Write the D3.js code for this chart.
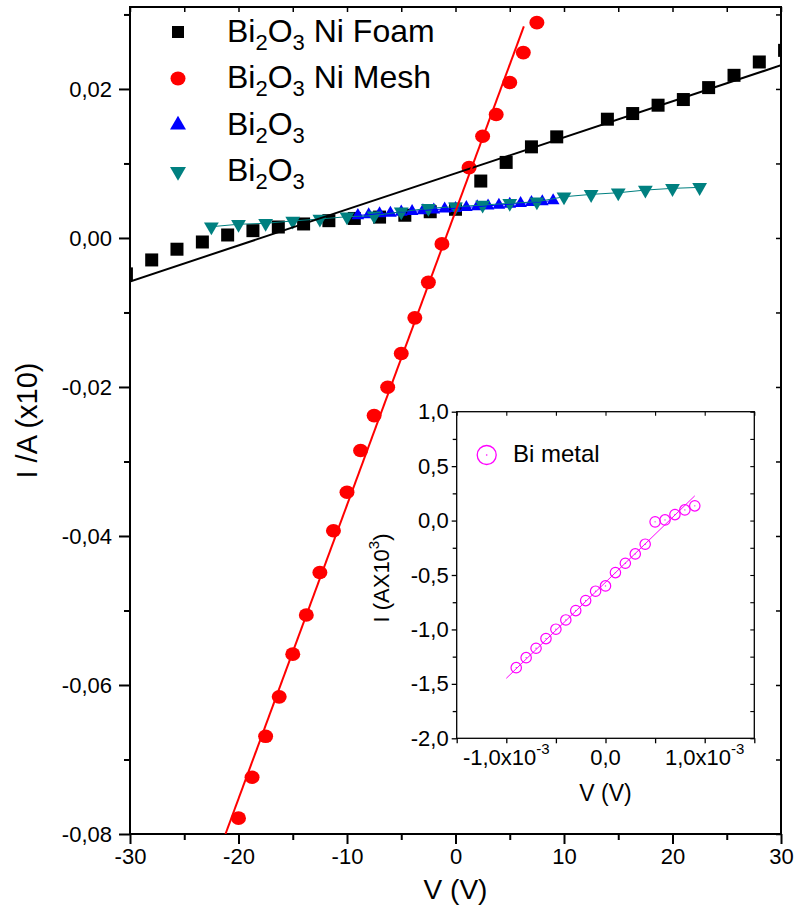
<!DOCTYPE html>
<html>
<head>
<meta charset="utf-8">
<script src="https://cdn.jsdelivr.net/npm/d3@7"></script>
<style>
  body { margin: 0; background: #fff; }
  svg { display: block; font-family: "Liberation Sans", Arial, sans-serif; }
</style>
</head>
<body>
<svg id="chart" width="797" height="918"></svg>
<script>
// Bi2O3 on Ni foam (black squares)
const foamV = [-30.33, -28, -25.67, -23.33, -21, -18.67, -16.33, -14, -11.67, -9.33, -7, -4.67, -2.33, 0,
               2.33, 4.67, 7, 9.33, 14, 16.33, 18.67, 21, 23.33, 25.67, 28, 30.33];
const foamI = [-0.00482, -0.00295, -0.00151, -0.00054, 0.00040, 0.00098, 0.00147, 0.00188, 0.00232, 0.00262,
               0.00280, 0.00305, 0.00352, 0.00385, 0.00764, 0.01014, 0.01223, 0.01357, 0.01594, 0.01670,
               0.01782, 0.01858, 0.02018, 0.02183, 0.02362, 0.02518];
const foamFitV = [-30, 30];
const foamFitI = [-0.00584, 0.02318];

// Bi2O3 on Ni mesh (red circles)
const meshV = [-20, -18.75, -17.5, -16.25, -15, -13.75, -12.5, -11.25, -10, -8.75, -7.5, -6.25, -5, -3.75, -2.5, -1.25,
               1.25, 2.5, 3.75, 5, 6.25, 7.5];
const meshI = [-0.07787, -0.07238, -0.06689, -0.06159, -0.05586, -0.05061, -0.04490, -0.03929, -0.03413, -0.02853,
               -0.02384, -0.02004, -0.01550, -0.01072, -0.00596, -0.00080, 0.00944, 0.01366, 0.01657, 0.02086,
               0.02488, 0.02890];
const meshFitV = [-21.2, 6.3];
const meshFitI = [-0.08, 0.0284];

// Bi2O3 (blue up triangles)
const blueV = [-9, -8, -7, -6, -5, -4, -3, -2, -1, 0, 1, 2, 3, 4, 5, 6, 7, 8, 9];
const blueI = [0.00302, 0.00313, 0.00326, 0.00334, 0.00349, 0.00356, 0.00369, 0.00379, 0.00390, 0.00398,
               0.00411, 0.00420, 0.00432, 0.00441, 0.00454, 0.00464, 0.00477, 0.00487, 0.00503];

// Bi2O3 (teal down triangles)
const tealV = [-22.5, -20, -17.5, -15, -12.5, -10, -7.5, -5, -2.5, 0, 2.5, 5, 7.5, 10, 12.5, 15, 17.5, 20, 22.5];
const tealI = [0.00151, 0.00184, 0.00197, 0.00228, 0.00255, 0.00285, 0.00299, 0.00352, 0.00398, 0.00419,
               0.00442, 0.00465, 0.00486, 0.00553, 0.00585, 0.00607, 0.00643, 0.00666, 0.00679];

// Inset: Bi metal (magenta open circles)
const biV = [-0.0009, -0.0008, -0.0007, -0.0006, -0.0005, -0.0004, -0.0003, -0.0002, -0.0001, 0,
             0.0001, 0.0002, 0.0003, 0.0004, 0.0005, 0.0006, 0.0007, 0.0008, 0.0009];
const biI = [-1.351, -1.259, -1.173, -1.084, -0.998, -0.913, -0.827, -0.735, -0.649, -0.600,
             -0.478, -0.392, -0.306, -0.217, -0.012, 0.006, 0.055, 0.098, 0.135];
const biFitV = [-0.001, 0.0009];
const biFitI = [-1.449, 0.227];

// ticks
const xMajor = [-30, -20, -10, 0, 10, 20, 30];
const xMinor = [-25, -15, -5, 5, 15, 25];
const yMajor = [-0.08, -0.06, -0.04, -0.02, 0, 0.02];
const yMinor = [-0.07, -0.05, -0.03, -0.01, 0.01, 0.03];
const insetXMajor = [-0.001, 0, 0.001];
const insetXMinor = [-0.0015, -0.0005, 0.0005, 0.0015];
const insetYMajor = [-2, -1.5, -1, -0.5, 0, 0.5, 1];
const insetYMinor = [-1.75, -1.25, -0.75, -0.25, 0.25, 0.75];

const legendNames = [["Bi", "2", "O", "3", " Ni Foam"], ["Bi", "2", "O", "3", " Ni Mesh"],
                     ["Bi", "2", "O", "3", ""], ["Bi", "2", "O", "3", ""]];

const locale = d3.formatLocale({decimal: ",", thousands: ".", grouping: [3], currency: ["", ""], minus: "-"});

const svg = d3.select("#chart");

// ---------- main plot ----------
const mL = 130, mR = 781, mT = 7, mB = 834;
const x = d3.scaleLinear().domain([-30, 30]).range([mL, mR]);
const y = d3.scaleLinear().domain([-0.08, 0.031]).range([mB, mT]);

svg.append("defs").append("clipPath").attr("id", "clipMain")
  .append("rect").attr("x", mL).attr("y", mT).attr("width", mR - mL).attr("height", mB - mT);

function styleAxis(g, sw) {
  g.select(".domain").remove();
  g.selectAll(".tick line").attr("stroke", "#000").attr("stroke-width", sw);
  g.selectAll(".tick text").attr("fill", "#000");
}

// outer ticks with labels
svg.append("g").attr("transform", `translate(0,${mB})`)
  .call(d3.axisBottom(x).tickValues(xMajor).tickSize(10).tickPadding(4).tickFormat(locale.format("d")))
  .call(g => styleAxis(g, 2)).call(g => g.selectAll("text").attr("font-size", 22).attr("font-family", null));
svg.append("g").attr("transform", `translate(0,${mB})`)
  .call(d3.axisBottom(x).tickValues(xMinor).tickSize(6).tickFormat(""))
  .call(g => styleAxis(g, 2));
svg.append("g").attr("transform", `translate(${mL},0)`)
  .call(d3.axisLeft(y).tickValues(yMajor).tickSize(11).tickPadding(7).tickFormat(locale.format(".2f")))
  .call(g => styleAxis(g, 2)).call(g => g.selectAll("text").attr("font-size", 22).attr("font-family", null));
svg.append("g").attr("transform", `translate(${mL},0)`)
  .call(d3.axisLeft(y).tickValues(yMinor).tickSize(6).tickFormat(""))
  .call(g => styleAxis(g, 2));
// mirrored inward ticks
svg.append("g").attr("transform", `translate(0,${mT})`)
  .call(d3.axisBottom(x).tickValues(xMajor.concat(xMinor)).tickSize(5).tickFormat(""))
  .call(g => styleAxis(g, 1.5));
svg.append("g").attr("transform", `translate(${mR},0)`)
  .call(d3.axisLeft(y).tickValues(yMajor.concat(yMinor)).tickSize(5).tickFormat(""))
  .call(g => styleAxis(g, 1.5));

svg.append("rect").attr("x", mL).attr("y", mT).attr("width", mR - mL).attr("height", mB - mT)
  .attr("fill", "none").attr("stroke", "#000").attr("stroke-width", 2);

svg.append("text").attr("x", (mL + mR) / 2).attr("y", 899).attr("text-anchor", "middle")
  .attr("font-size", 28).text("V (V)");
svg.append("text").attr("transform", `translate(37,${(mT + mB) / 2}) rotate(-90)`)
  .attr("text-anchor", "middle").attr("font-size", 29).text("I /A (x10)");

const plot = svg.append("g").attr("clip-path", "url(#clipMain)");
const line = d3.line().x(d => x(d[0])).y(d => y(d[1]));

// black squares
plot.append("g").selectAll("rect").data(d3.zip(foamV, foamI)).join("rect")
  .attr("x", d => x(d[0]) - 6.5).attr("y", d => y(d[1]) - 6.5)
  .attr("width", 13).attr("height", 13).attr("fill", "#000");
// red circles
plot.append("g").selectAll("ellipse").data(d3.zip(meshV, meshI)).join("ellipse")
  .attr("cx", d => x(d[0])).attr("cy", d => y(d[1])).attr("rx", 7.5).attr("ry", 6.8).attr("fill", "#ff0000");
// blue up triangles
const triUp = d3.symbol().type(d3.symbolTriangle).size(70);
plot.append("g").selectAll("path").data(d3.zip(blueV, blueI)).join("path")
  .attr("d", triUp).attr("transform", d => `translate(${x(d[0])},${y(d[1])})`).attr("fill", "#0000ff");
// teal down triangles
const triDown = d3.symbol().type(d3.symbolTriangle).size(95);
plot.append("g").selectAll("path").data(d3.zip(tealV, tealI)).join("path")
  .attr("d", triDown).attr("transform", d => `translate(${x(d[0])},${y(d[1])}) rotate(180)`).attr("fill", "#008080");

// lines
plot.append("path").datum(d3.zip(blueV, blueI)).attr("d", line)
  .attr("fill", "none").attr("stroke", "#0000ff").attr("stroke-width", 1);
plot.append("path").datum(d3.zip(tealV, tealI)).attr("d", line)
  .attr("fill", "none").attr("stroke", "#008080").attr("stroke-width", 1);
plot.append("path").datum(d3.zip(foamFitV, foamFitI)).attr("d", line)
  .attr("fill", "none").attr("stroke", "#000").attr("stroke-width", 2);
plot.append("path").datum(d3.zip(meshFitV, meshFitI)).attr("d", line)
  .attr("fill", "none").attr("stroke", "#ff0000").attr("stroke-width", 2);

// legend
const legendColors = ["#000", "#ff0000", "#0000ff", "#008080"];
const legend = svg.append("g");
legendNames.forEach((parts, i) => {
  const cy = 32 + i * 46.5;
  const mx = 178;
  if (i === 0) legend.append("rect").attr("x", mx - 6).attr("y", cy - 6).attr("width", 12).attr("height", 12).attr("fill", legendColors[i]);
  if (i === 1) legend.append("ellipse").attr("cx", mx).attr("cy", cy).attr("rx", 7.5).attr("ry", 7).attr("fill", legendColors[i]);
  if (i === 2) legend.append("path").attr("d", d3.symbol().type(d3.symbolTriangle).size(110))
    .attr("transform", `translate(${mx},${cy})`).attr("fill", legendColors[i]);
  if (i === 3) legend.append("path").attr("d", d3.symbol().type(d3.symbolTriangle).size(110))
    .attr("transform", `translate(${mx},${cy}) rotate(180)`).attr("fill", legendColors[i]);
  const t = legend.append("text").attr("x", 227).attr("y", cy + 9.5).attr("font-size", 32);
  t.append("tspan").text(parts[0]);
  t.append("tspan").attr("font-size", 22).attr("dy", 8).text(parts[1]);
  t.append("tspan").attr("dy", -8).text(parts[2]);
  t.append("tspan").attr("font-size", 22).attr("dy", 8).text(parts[3]);
  if (parts[4]) t.append("tspan").attr("dy", -8).text(parts[4]);
});

// ---------- inset ----------
const iL = 456.7, iR = 754.3, iT = 411.7, iB = 738.3;
const xi = d3.scaleLinear().domain([-0.0015, 0.0015]).range([iL, iR]);
const yi = d3.scaleLinear().domain([-2, 1]).range([iB, iT]);
const inset = svg.append("g");

inset.append("rect").attr("x", iL).attr("y", iT).attr("width", iR - iL).attr("height", iB - iT).attr("fill", "#fff");

inset.append("g").attr("transform", `translate(0,${iB})`)
  .call(d3.axisBottom(xi).tickValues(insetXMajor.concat(insetXMinor)).tickSize(5).tickFormat(""))
  .call(g => styleAxis(g, 1.3));
inset.append("g").attr("transform", `translate(${iL},0)`)
  .call(d3.axisLeft(yi).tickValues(insetYMajor).tickSize(5).tickPadding(3).tickFormat(locale.format(".1f")))
  .call(g => styleAxis(g, 1.3)).call(g => g.selectAll("text").attr("font-size", 22).attr("font-family", null));
inset.append("g").attr("transform", `translate(${iL},0)`)
  .call(d3.axisLeft(yi).tickValues(insetYMinor).tickSize(4).tickFormat(""))
  .call(g => styleAxis(g, 1.3));
inset.append("g").attr("transform", `translate(0,${iT})`)
  .call(d3.axisBottom(xi).tickValues(insetXMajor.concat(insetXMinor)).tickSize(4).tickFormat(""))
  .call(g => styleAxis(g, 1.1));
inset.append("g").attr("transform", `translate(${iR},0)`)
  .call(d3.axisLeft(yi).tickValues(insetYMajor.concat(insetYMinor)).tickSize(4).tickFormat(""))
  .call(g => styleAxis(g, 1.1));

inset.append("rect").attr("x", iL).attr("y", iT).attr("width", iR - iL).attr("height", iB - iT)
  .attr("fill", "none").attr("stroke", "#000").attr("stroke-width", 1.3);

// inset x tick labels with superscript exponent
const fmt1 = locale.format(".1f");
insetXMajor.forEach(v => {
  const t = inset.append("text").attr("x", xi(v)).attr("y", 765).attr("text-anchor", "middle").attr("font-size", 22);
  if (v === 0) { t.text(fmt1(0)); return; }
  t.append("tspan").text(fmt1(v * 1000) + "x10");
  t.append("tspan").attr("font-size", 15).attr("dy", -11).text("-3");
});

inset.append("text").attr("x", (iL + iR) / 2).attr("y", 801).attr("text-anchor", "middle")
  .attr("font-size", 23).text("V (V)");
const yl = inset.append("text").attr("transform", `translate(389,${(iT + iB) / 2 + 3}) rotate(-90)`)
  .attr("text-anchor", "middle").attr("font-size", 22);
yl.append("tspan").text("I (AX10");
yl.append("tspan").attr("font-size", 15).attr("dy", -10).text("3");
yl.append("tspan").attr("dy", 10).text(")");

const linei = d3.line().x(d => xi(d[0])).y(d => yi(d[1]));
inset.append("path").datum(d3.zip(biFitV, biFitI)).attr("d", linei)
  .attr("fill", "none").attr("stroke", "#ff00ff").attr("stroke-width", 1);
const biPts = inset.append("g").selectAll("g").data(d3.zip(biV, biI)).join("g")
  .attr("transform", d => `translate(${xi(d[0])},${yi(d[1])})`);
biPts.append("circle").attr("r", 5.2).attr("fill", "none").attr("stroke", "#ff00ff").attr("stroke-width", 1.2);
biPts.append("circle").attr("r", 0.7).attr("fill", "#ff00ff");

// inset legend
inset.append("circle").attr("cx", 486.7).attr("cy", 455).attr("r", 9.5)
  .attr("fill", "none").attr("stroke", "#ff00ff").attr("stroke-width", 1.3);
inset.append("circle").attr("cx", 486.7).attr("cy", 455).attr("r", 0.8).attr("fill", "#ff00ff");
inset.append("text").attr("x", 513).attr("y", 462).attr("font-size", 24).text("Bi metal");
</script>
</body>
</html>
